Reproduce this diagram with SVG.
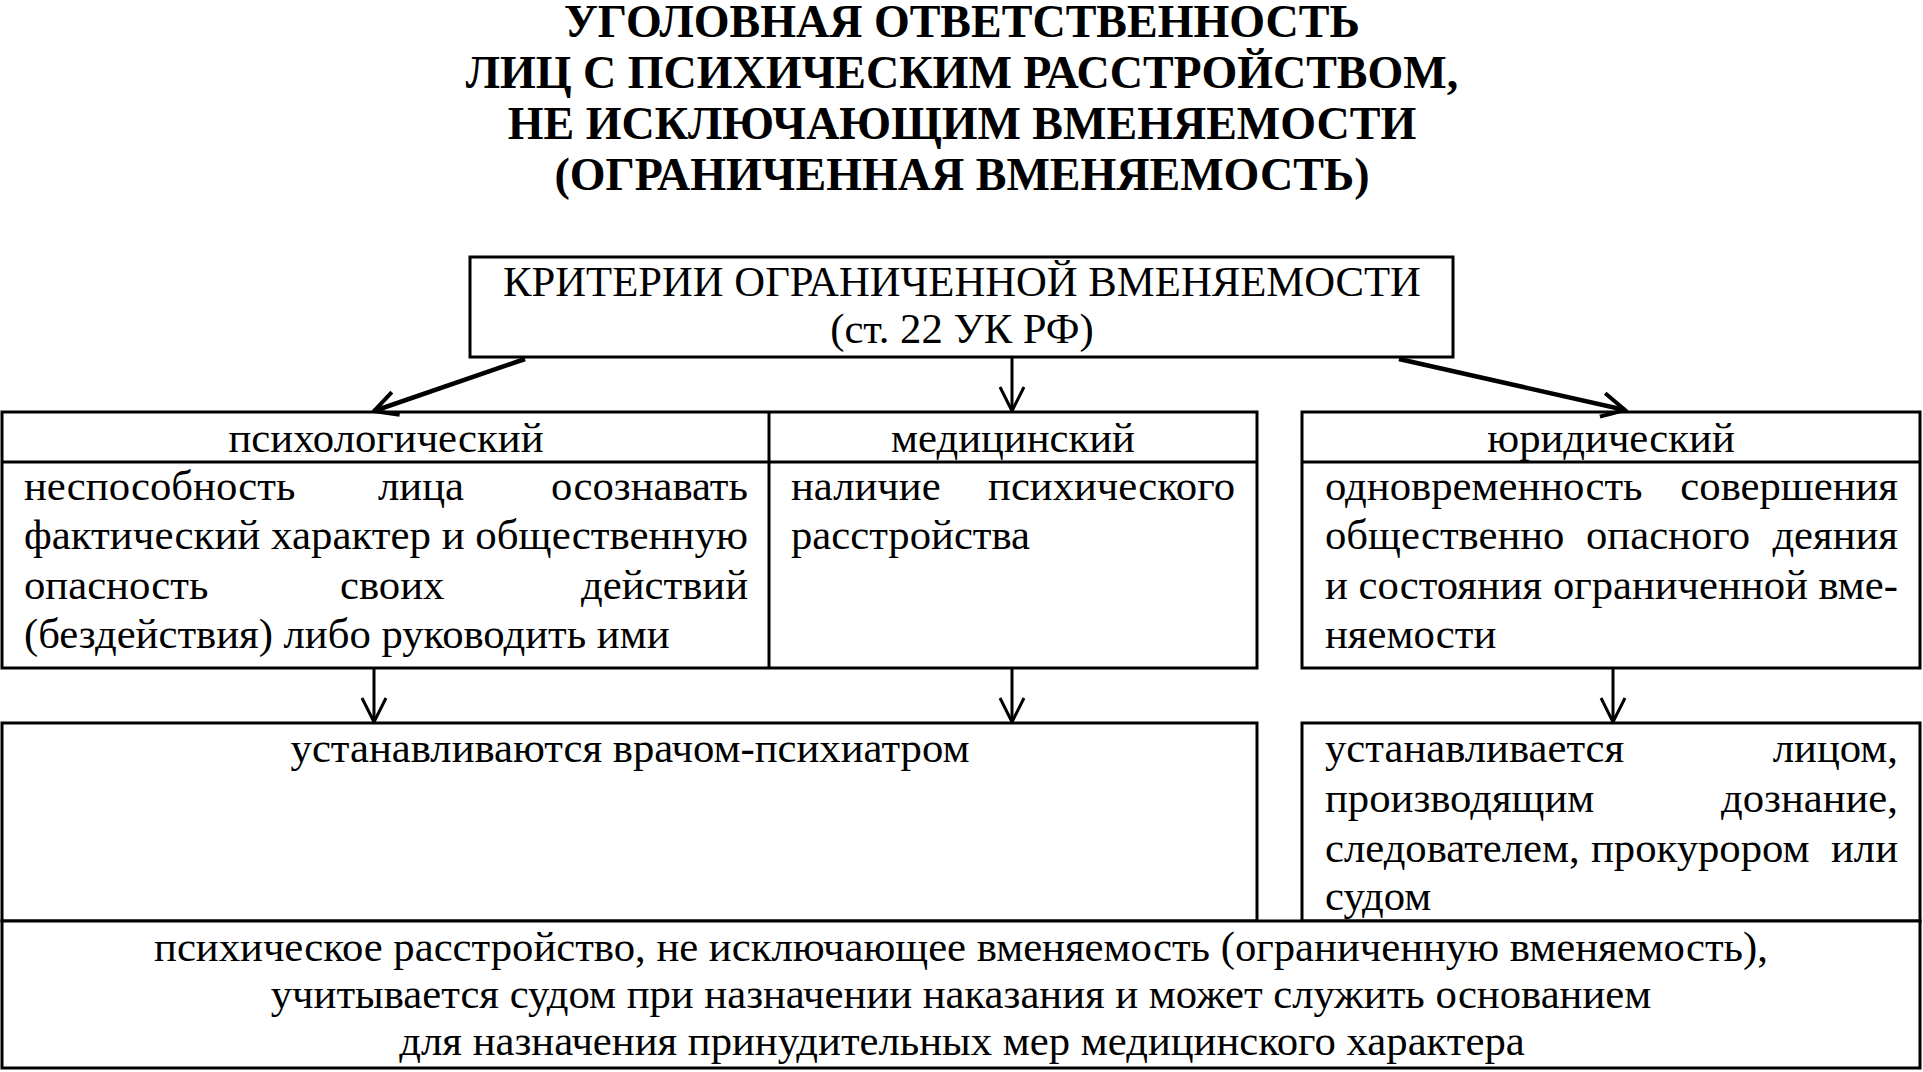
<svg xmlns="http://www.w3.org/2000/svg" width="1923" height="1072" viewBox="0 0 1923 1072">
<style>
.t{font-family:"Liberation Serif","Times New Roman",serif;font-size:42.7px;fill:#000}
.title{font-family:"Liberation Serif","Times New Roman",serif;font-size:46px;font-weight:bold;fill:#000;text-anchor:middle}
.c{text-anchor:middle}
.e{text-anchor:end}
.box{fill:#fff;stroke:#000;stroke-width:3}
.ln{fill:none;stroke:#000;stroke-width:3}
.con{fill:none;stroke:#000;stroke-width:3;marker-end:url(#ah)}
.con2{fill:none;stroke:#000;stroke-width:4.5;marker-end:url(#ah2)}
</style>
<defs>
<marker id="ah" markerUnits="userSpaceOnUse" viewBox="0 0 28 28" markerWidth="28" markerHeight="28" refX="26" refY="14" orient="auto">
<path d="M2,2 L26,14 L2,26" fill="none" stroke="#000" stroke-width="3"/>
</marker>
<marker id="ah2" markerUnits="userSpaceOnUse" viewBox="0 0 28 28" markerWidth="28" markerHeight="28" refX="25" refY="14" orient="auto">
<path d="M2,2 L25,14 L2,26" fill="none" stroke="#000" stroke-width="4"/>
</marker>
</defs>
<rect width="1923" height="1072" fill="#fff"/>

<g id="title">
<text class="title" x="962" y="37">УГОЛОВНАЯ ОТВЕТСТВЕННОСТЬ</text>
<text class="title" x="962" y="88">ЛИЦ С ПСИХИЧЕСКИМ РАССТРОЙСТВОМ,</text>
<text class="title" x="962" y="139">НЕ ИСКЛЮЧАЮЩИМ ВМЕНЯЕМОСТИ</text>
<text class="title" x="962" y="190">(ОГРАНИЧЕННАЯ ВМЕНЯЕМОСТЬ)</text>
</g>

<g id="criteria">
<rect class="box" x="470" y="257" width="983" height="100"/>
<text class="t c" x="962" y="296">КРИТЕРИИ ОГРАНИЧЕННОЙ ВМЕНЯЕМОСТИ</text>
<text class="t c" x="962" y="343">(ст. 22 УК РФ)</text>
</g>

<g id="psych-med">
<rect class="box" x="2" y="412" width="1255" height="256"/>
<line class="ln" x1="2" y1="462" x2="1257" y2="462"/>
<line class="ln" x1="769" y1="412" x2="769" y2="668"/>
</g>

<g id="psychological">
<text class="t c" x="386" y="452">психологический</text>
<text class="t" x="24" y="500">неспособность</text>
<text class="t" x="378" y="500">лица</text>
<text class="t e" x="748" y="500">осознавать</text>
<text class="t" x="24" y="549" textLength="724" lengthAdjust="spacingAndGlyphs">фактический характер и общественную</text>
<text class="t" x="24" y="599">опасность</text>
<text class="t" x="340" y="599">своих</text>
<text class="t e" x="748" y="599">действий</text>
<text class="t" x="24" y="648">(бездействия) либо руководить ими</text>
</g>

<g id="medical">
<text class="t c" x="1013" y="452">медицинский</text>
<text class="t" x="791" y="500">наличие</text>
<text class="t e" x="1235" y="500">психического</text>
<text class="t" x="791" y="549">расстройства</text>
</g>

<g id="legal">
<rect class="box" x="1302" y="412" width="618" height="256"/>
<line class="ln" x1="1302" y1="462" x2="1920" y2="462"/>
<text class="t c" x="1611" y="452">юридический</text>
<text class="t" x="1325" y="500">одновременность</text>
<text class="t e" x="1898" y="500">совершения</text>
<text class="t" x="1325" y="549">общественно</text>
<text class="t" x="1586" y="549">опасного</text>
<text class="t e" x="1898" y="549">деяния</text>
<text class="t" x="1325" y="599" textLength="573" lengthAdjust="spacingAndGlyphs">и состояния ограниченной вме-</text>
<text class="t" x="1325" y="648">няемости</text>
</g>

<g id="psychiatrist">
<rect class="box" x="2" y="723" width="1255" height="198"/>
<text class="t c" x="630" y="762">устанавливаются врачом-психиатром</text>
</g>

<g id="investigator">
<rect class="box" x="1302" y="723" width="618" height="198"/>
<text class="t" x="1325" y="762">устанавливается</text>
<text class="t e" x="1898" y="762">лицом,</text>
<text class="t" x="1325" y="812">производящим</text>
<text class="t e" x="1898" y="812">дознание,</text>
<text class="t" x="1325" y="862">следователем,</text>
<text class="t" x="1591" y="862">прокурором</text>
<text class="t e" x="1898" y="862">или</text>
<text class="t" x="1325" y="910">судом</text>
</g>

<g id="conclusion">
<rect class="box" x="2" y="921" width="1918" height="147"/>
<text class="t c" x="961" y="961">психическое расстройство, не исключающее вменяемость (ограниченную вменяемость),</text>
<text class="t c" x="961" y="1008">учитывается судом при назначении наказания и может служить основанием</text>
<text class="t c" x="962" y="1055">для назначения принудительных мер медицинского характера</text>
</g>

<g id="connectors">
<line class="con2" x1="525" y1="359" x2="374" y2="411"/>
<line class="con" x1="1012" y1="358" x2="1012" y2="411"/>
<line class="con2" x1="1399" y1="359" x2="1625" y2="410"/>
<line class="con" x1="374" y1="668" x2="374" y2="722"/>
<line class="con" x1="1012" y1="668" x2="1012" y2="722"/>
<line class="con" x1="1613" y1="668" x2="1613" y2="722"/>
</g>
</svg>
